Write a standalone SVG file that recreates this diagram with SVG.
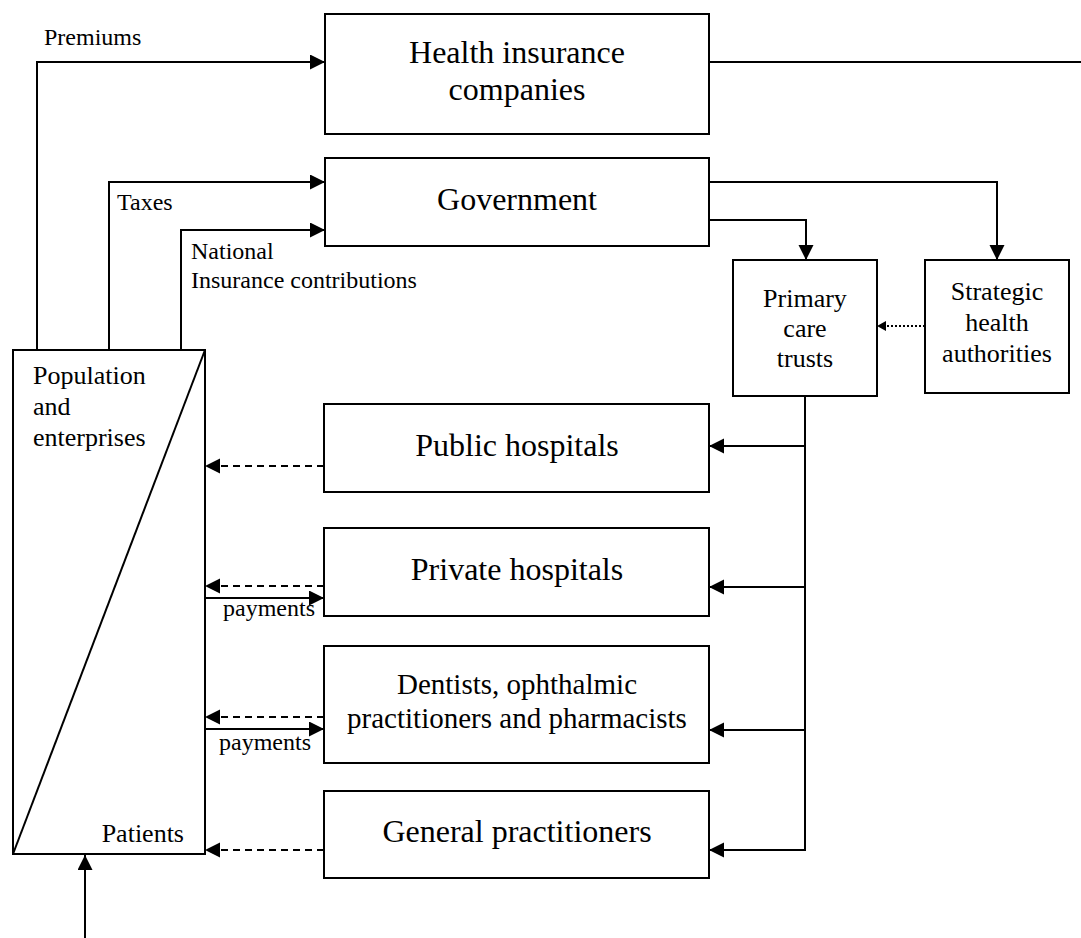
<svg xmlns="http://www.w3.org/2000/svg" width="1081" height="938" viewBox="0 0 1081 938" font-family="'Liberation Serif', 'Times New Roman', 'DejaVu Serif', serif">
<style>
text{font-family:'Liberation Serif','Times New Roman','DejaVu Serif',serif;fill:#000}
.big{font-size:32px;text-anchor:middle}
.mid{font-size:29px;text-anchor:middle}
.sm{font-size:26px}
.smc{font-size:26px;text-anchor:middle}
.lbl{font-size:24px}
.box{fill:#fff;stroke:#000;stroke-width:2}
.c{fill:none;stroke:#000;stroke-width:2}
.a{marker-end:url(#ah)}
.d{stroke-dasharray:7 5;marker-end:url(#ah)}
.dot{fill:none;stroke:#000;stroke-width:2;stroke-dasharray:2 2;marker-end:url(#ahs)}
</style>
<defs>
<marker id="ah" markerUnits="userSpaceOnUse" markerWidth="16" markerHeight="16" refX="15" refY="7.5" orient="auto"><path d="M0,0 L15,7.5 L0,15 z" fill="#000"/></marker>
<marker id="ahs" markerUnits="userSpaceOnUse" markerWidth="10" markerHeight="11" refX="9" refY="5" orient="auto"><path d="M0,0 L9,5 L0,10 z" fill="#000"/></marker>
</defs>
<rect width="1081" height="938" fill="#fff"/>
<g id="connectors">
<path class="c a" d="M37,350 V62 H325"/>
<path class="c a" d="M109,350 V182 H325"/>
<path class="c a" d="M181,350 V230 H325"/>
<path class="c" d="M709,62 H1081"/>
<path class="c a" d="M709,182 H997 V260"/>
<path class="c a" d="M709,220 H806 V260"/>
<path class="dot" d="M925,326 H877"/>
<path class="c a" d="M805,396 V850 H709"/>
<path class="c a" d="M805,446 H709"/>
<path class="c a" d="M805,587 H709"/>
<path class="c a" d="M805,730 H709"/>
<path class="c d" d="M324,466 H205"/>
<path class="c d" d="M324,586 H205"/>
<path class="c d" d="M324,717 H205"/>
<path class="c d" d="M324,850 H205"/>
<path class="c a" d="M205,598 H324"/>
<path class="c a" d="M205,729 H324"/>
<path class="c a" d="M85,938 V855"/>
<text class="lbl" x="44" y="45">Premiums</text>
<text class="lbl" x="117" y="210">Taxes</text>
<text class="lbl" x="191" y="259">National</text>
<text class="lbl" x="191" y="288">Insurance contributions</text>
<text class="lbl" x="223" y="616">payments</text>
<text class="lbl" x="219" y="750">payments</text>
</g>
<g id="population">
<rect class="box" x="13" y="350" width="192" height="504"/>
<line class="c" x1="13" y1="854" x2="205" y2="350"/>
<text class="sm" x="33" y="384">Population</text>
<text class="sm" x="33" y="415">and</text>
<text class="sm" x="33" y="446">enterprises</text>
<text class="sm" x="184" y="842" text-anchor="end">Patients</text>
</g>
<g id="health-insurance">
<rect class="box" x="325" y="14" width="384" height="120"/>
<text class="big" x="517" y="63">Health insurance</text>
<text class="big" x="517" y="100">companies</text>
</g>
<g id="government">
<rect class="box" x="325" y="158" width="384" height="88"/>
<text class="big" x="517" y="210">Government</text>
</g>
<g id="pct">
<rect class="box" x="733" y="260" width="144" height="136"/>
<text class="smc" x="805" y="307">Primary</text>
<text class="smc" x="805" y="337">care</text>
<text class="smc" x="805" y="367">trusts</text>
</g>
<g id="sha">
<rect class="box" x="925" y="260" width="144" height="133"/>
<text class="smc" x="997" y="300">Strategic</text>
<text class="smc" x="997" y="331">health</text>
<text class="smc" x="997" y="362">authorities</text>
</g>
<g id="public-hospitals">
<rect class="box" x="324" y="404" width="385" height="88"/>
<text class="big" x="517" y="456">Public hospitals</text>
</g>
<g id="private-hospitals">
<rect class="box" x="324" y="528" width="385" height="88"/>
<text class="big" x="517" y="580">Private hospitals</text>
</g>
<g id="dentists">
<rect class="box" x="324" y="646" width="385" height="117"/>
<text class="mid" x="517" y="694">Dentists, ophthalmic</text>
<text class="mid" x="517" y="728">practitioners and pharmacists</text>
</g>
<g id="gp">
<rect class="box" x="324" y="791" width="385" height="87"/>
<text class="big" x="517" y="842">General practitioners</text>
</g>
</svg>
